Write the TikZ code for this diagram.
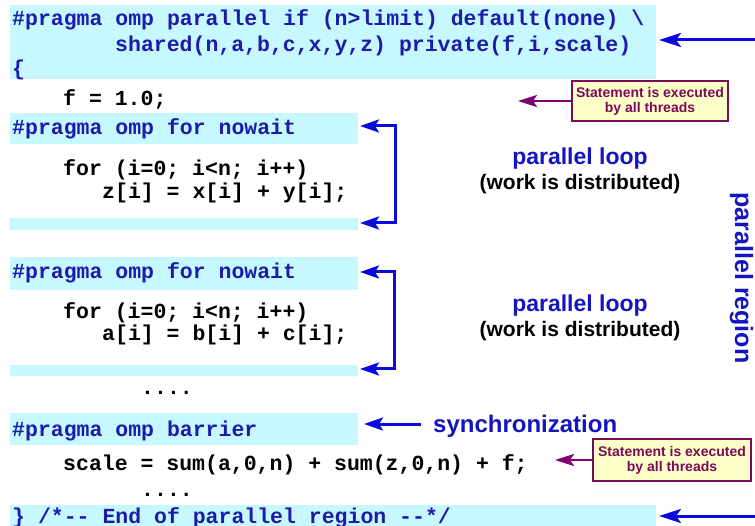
\documentclass[tikz,border=0pt]{standalone}
\usepackage{fontspec}
\setmainfont{Liberation Sans}
\newfontfamily\codefont{Liberation Mono}[Ligatures=TeXOff]
\usetikzlibrary{arrows.meta}
\definecolor{cyanbg}{HTML}{C8F8FF}
\definecolor{pragblue}{HTML}{1C1CA8}
\definecolor{arrblue}{HTML}{0A0AE0}
\definecolor{txtblue}{HTML}{1414C0}
\definecolor{notefill}{HTML}{FFFFC8}
\definecolor{notepurple}{HTML}{7A0A5A}
\definecolor{arrpurple}{HTML}{800070}
\tikzset{
  codeline/.style={anchor=base west, inner sep=0pt, font=\codefont\bfseries\fontsize{21.5}{21.5}\selectfont, text=black},
  pragline/.style={codeline, text=pragblue},
  cyanbox/.style={fill=cyanbg, draw=none},
  bluearrow/.style={draw=arrblue, line width=3pt, -{Stealth[length=22pt,width=14pt,inset=5pt]}},
  bracketarrow/.style={draw=arrblue, line width=3pt, {Stealth[length=19pt,width=13pt,inset=4pt]}-{Stealth[length=19pt,width=13pt,inset=4pt]}},
  purplearrow/.style={draw=arrpurple, line width=2.5pt, -{Stealth[length=19pt,width=12pt,inset=4pt]}},
  notebox/.style={draw=notepurple, line width=1.8pt, fill=notefill, text=notepurple, align=center,
    font=\bfseries\fontsize{14}{15}\selectfont, inner sep=2pt},
  ploop/.style={font=\bfseries\fontsize{23}{23}\selectfont, text=txtblue, inner sep=0pt, anchor=base},
  worktxt/.style={font=\bfseries\fontsize{21}{21}\selectfont, text=black, inner sep=0pt, anchor=base},
}
\begin{document}
\begin{tikzpicture}[x=1pt,y=-1pt]
\useasboundingbox (0,0) rectangle (755,526);
\clip (0,0) rectangle (755,526);
% cyan boxes
\path[cyanbox] (10,5) rectangle (656,79);
\path[cyanbox] (10,113) rectangle (358,144);
\path[cyanbox] (10,218) rectangle (358,230);
\path[cyanbox] (10,257) rectangle (358,290);
\path[cyanbox] (10,365) rectangle (358,376);
\path[cyanbox] (10,413) rectangle (358,445);
\path[cyanbox] (10,505) rectangle (656,530);
% code lines
\node[pragline] (l1) at (12,26) {\#pragma omp parallel if (n>limit) default(none) \textbackslash};
\node[pragline] (l2) at (115,52) {shared(n,a,b,c,x,y,z) private(f,i,scale)};
\node[pragline] (l3) at (12,76) {\{};
\node[codeline] (l4) at (63,106) {f = 1.0;};
\node[pragline] (l5) at (12,135) {\#pragma omp for nowait};
\node[codeline] (l6) at (63,176) {for (i=0; i<n; i++)};
\node[codeline] (l7) at (102,199) {z[i] = x[i] + y[i];};
\node[pragline] (l8) at (12,279) {\#pragma omp for nowait};
\node[codeline] (l9) at (63,319) {for (i=0; i<n; i++)};
\node[codeline] (l10) at (102,341) {a[i] = b[i] + c[i];};
\node[codeline] (l11) at (141,395) {....};
\node[pragline] (l12) at (12,436) {\#pragma omp barrier};
\node[codeline] (l13) at (63,470) {scale = sum(a,0,n) + sum(z,0,n) + f;};
\node[codeline] (l14) at (141,496) {....};
\node[pragline] (l15) at (12,523) {\} /*-- End of parallel region --*/};
% parallel region arrows
\coordinate (rtop) at (760,40);
\coordinate (rtoptip) at (659,40);
\coordinate (rbot) at (760,516);
\coordinate (rbottip) at (659,516);
\draw[bluearrow] (rtop) -- (rtoptip);
\draw[bluearrow] (rbot) -- (rbottip);
\node[font=\bfseries\fontsize{25}{25}\selectfont, text=txtblue, rotate=-90, anchor=base, inner sep=0pt] (preg) at (735,278) {parallel region};
% brackets
\coordinate (b1a) at (360,126);
\coordinate (b1b) at (360,223);
\coordinate (b2a) at (360,272);
\coordinate (b2b) at (360,369);
\draw[bracketarrow] (b1a) -- (395,126) -- (395,223) -- (b1b);
\draw[bracketarrow] (b2a) -- (394,272) -- (394,369) -- (b2b);
% parallel loop labels
\node[ploop] (pl1) at (580,165) {parallel loop};
\node[worktxt] (wd1) at (580,190) {(work is distributed)};
\node[ploop] (pl2) at (580,312) {parallel loop};
\node[worktxt] (wd2) at (580,337) {(work is distributed)};
% notes
\node[notebox, minimum width=156pt, minimum height=40pt] (n1) at (650,101) {Statement is executed\\by all threads};
\node[notebox, minimum width=158pt, minimum height=42pt] (n2) at (672,460) {Statement is executed\\by all threads};
\coordinate (p1tip) at (518,101);
\coordinate (p2tip) at (555,460);
\draw[purplearrow] (n1.west) -- (p1tip);
\draw[purplearrow] (n2.west) -- (p2tip);
% synchronization
\node[font=\bfseries\fontsize{24}{24}\selectfont, text=txtblue, anchor=base west, inner sep=0pt] (sync) at (433,432) {synchronization};
\coordinate (synctip) at (364,424);
\draw[bluearrow, -{Stealth[length=19pt,width=13pt,inset=4pt]}] (sync.west |- synctip) ++(-12,0) coordinate (syncstart) -- (synctip);
\end{tikzpicture}
\end{document}
